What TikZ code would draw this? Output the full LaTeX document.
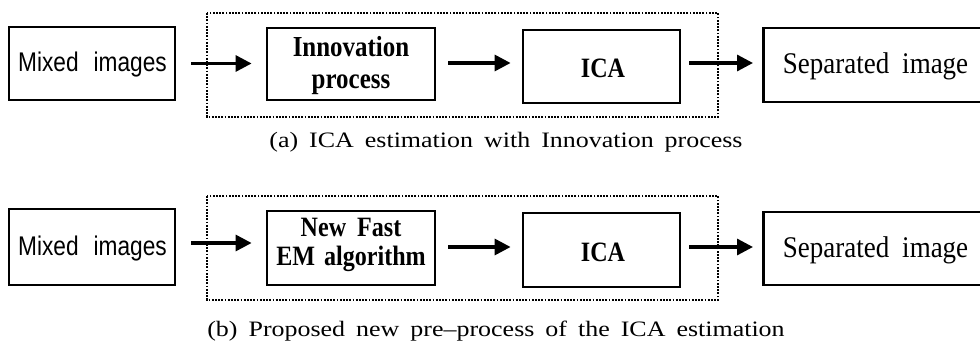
\documentclass[tikz,border=0pt]{standalone}
\usepackage{fontspec}
\setmainfont{Liberation Serif}
\newfontfamily\boxfont[FakeStretch=0.86]{Liberation Serif}
\newfontfamily\sepfont[FakeStretch=0.9]{Liberation Serif}
\newfontfamily\capfont[FakeStretch=1.18]{Liberation Serif}
\newfontfamily\sansbox[FakeStretch=0.84]{Liberation Sans}
\usetikzlibrary{arrows.meta}
\begin{document}
\begin{tikzpicture}[x=1pt,y=-1pt,
  blk/.style={draw,line width=2.8pt,inner sep=0pt,rectangle},
  grp/.style={draw,line width=2.5pt,dash pattern=on 1.8pt off 1.4pt},
  flow/.style={line width=3.2pt,-{Triangle[length=16pt,width=16pt]}},
  btxt/.style={font=\boxfont\bfseries\fontsize{29}{32}\selectfont,align=center,inner sep=0pt},
  icatxt/.style={font=\boxfont\bfseries\fontsize{28}{30}\selectfont,inner sep=0pt,anchor=base},
  stxt/.style={font=\sepfont\fontsize{30}{33}\selectfont,inner sep=0pt,anchor=base},
  mtxt/.style={font=\sansbox\fontsize{27}{30}\selectfont,inner sep=0pt,anchor=base},
  captxt/.style={font=\capfont\fontsize{22}{24}\selectfont,inner sep=0pt,anchor=base}]
\useasboundingbox (0,0) rectangle (980,342);
% ---------- row (a)
\draw[grp] (207,13) rectangle (718,117);
\node[blk,minimum width=166pt,minimum height=73pt] (mix1) at (92,63.5) {};
\node[mtxt] (mixt1) at (92.5,72) {Mixed\hspace{15pt}images};
\node[blk,minimum width=168pt,minimum height=72pt] (inn1) at (351,64) {};
\node[btxt] (innt1) at (351,66) {Innovation\\process};
\node[blk,minimum width=157pt,minimum height=73pt] (ica1) at (601.5,66.5) {};
\node[icatxt] (icat1) at (603,78) {ICA};
\node[blk,minimum width=240pt,minimum height=74pt,anchor=west] (sep1) at (762,65) {};
\node[stxt] (sept1) at (875.5,74) {Separated\hspace{13pt}image};
\draw[flow,shorten <=15pt,shorten >=14pt] (mix1.east) -- (mix1.east -| inn1.west);
\draw[flow,shorten <=12pt,shorten >=11pt] ([yshift=1pt]inn1.east) -- ([yshift=1pt]inn1.east -| ica1.west);
\draw[flow,shorten <=8pt,shorten >=9pt] ([yshift=1pt]inn1.east -| ica1.east) -- ([yshift=1pt]inn1.east -| sep1.west);
\node[captxt] (capa) at (506,147) {(a)\hspace{11pt}ICA\hspace{11pt}estimation\hspace{11pt}with\hspace{11pt}Innovation\hspace{11pt}process};
% ---------- row (b)
\draw[grp] (207,196) rectangle (718,300);
\node[blk,minimum width=166pt,minimum height=76pt] (mix2) at (92,247) {};
\node[mtxt] (mixt2) at (92.5,255.5) {Mixed\hspace{15pt}images};
\node[blk,minimum width=168pt,minimum height=74pt] (new2) at (351,248) {};
\node[btxt,font=\boxfont\bfseries\fontsize{28}{29}\selectfont] (newt2) at (351,245) {New\hspace{11pt}Fast\\EM\hspace{9pt}algorithm};
\node[blk,minimum width=157pt,minimum height=74pt] (ica2) at (601.5,250) {};
\node[icatxt] (icat2) at (603,261.5) {ICA};
\node[blk,minimum width=240pt,minimum height=73pt,anchor=west] (sep2) at (762,248.5) {};
\node[stxt] (sept2) at (875.5,257.5) {Separated\hspace{13pt}image};
\draw[flow,shorten <=15pt,shorten >=14pt] ([yshift=4pt]mix2.east) -- ([yshift=4pt]mix2.east -| new2.west);
\draw[flow,shorten <=12pt,shorten >=11pt] ([yshift=1pt]new2.east) -- ([yshift=1pt]new2.east -| ica2.west);
\draw[flow,shorten <=8pt,shorten >=9pt] ([yshift=1pt]new2.east -| ica2.east) -- ([yshift=1pt]new2.east -| sep2.west);
\node[captxt] (capb) at (496,336) {(b)\hspace{11pt}Proposed\hspace{11pt}new\hspace{11pt}pre–process\hspace{11pt}of\hspace{11pt}the\hspace{11pt}ICA\hspace{11pt}estimation};
\end{tikzpicture}
\end{document}
